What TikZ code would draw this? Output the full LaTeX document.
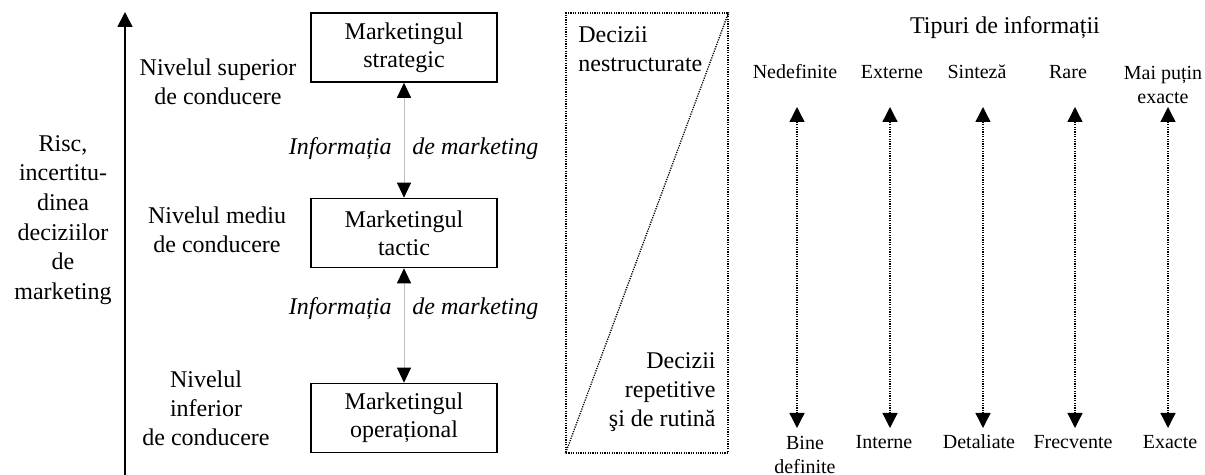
\documentclass[tikz,border=0pt]{standalone}
\usepackage{fontspec}
\setmainfont{Liberation Serif}
\usetikzlibrary{arrows.meta}
\begin{document}
\begin{tikzpicture}[x=0.5pt,y=-0.5pt,
  lbl/.style={font=\fontsize{12}{14.4}\selectfont, align=center, inner sep=0pt},
  sml/.style={font=\fontsize{10}{11.6}\selectfont, align=center, inner sep=0pt},
  mbox/.style={draw, line width=0.8pt, minimum width=93pt, minimum height=34.5pt, inner sep=0pt, font=\fontsize{12}{14}\selectfont, align=center},
  info/.style={font=\fontsize{12}{14}\selectfont\itshape, inner sep=0pt},
  link/.style={draw=gray!50, line width=0.5pt, {Triangle[length=7.5pt,width=7pt,color=black]}-{Triangle[length=7.5pt,width=7pt,color=black]}},
  dots/.style={line width=0.65pt, dash pattern=on 0.6pt off 0.6pt},
  varr/.style={dots, {Triangle[length=7.5pt,width=7.5pt]}-{Triangle[length=7.5pt,width=7.5pt]}},
  axis/.style={line width=0.9pt, -{Triangle[length=7.5pt,width=7.5pt]}}
]
\useasboundingbox (0,0) rectangle (1205,475);

% main axis
\coordinate (axb) at (125,475);
\coordinate (axt) at (125,12);
\draw[axis] (axb) -- (axt);
\node[lbl, font=\fontsize{12}{14.8}\selectfont] (risc) at (63,220) {Risc,\\incertitu-\\dinea\\deciziilor\\de\\marketing};

% level labels
\node[lbl] (lvl1) at (218,82) {Nivelul superior\\de conducere};
\node[lbl] (lvl2) at (217,230) {Nivelul mediu\\de conducere};
\node[lbl] (lvl3) at (206,408) {Nivelul\\inferior\\de conducere};

% boxes
\node[mbox] (b1) at (404,47.5) {Marketingul\\strategic};
\node[mbox] (b2) at (404,233) {Marketingul\\tactic};
\node[mbox] (b3) at (404,418) {Marketingul\\operațional};

\draw[link] (b1.south) -- (b2.north);
\draw[link] (b2.south) -- (b3.north);

\node[info, anchor=base east] (i1a) at (392,155) {Informația};
\node[info, anchor=base west] (i1b) at (412,155) {de marketing};
\node[info, anchor=base east] (i2a) at (392,315) {Informația};
\node[info, anchor=base west] (i2b) at (412,315) {de marketing};

% dotted rectangle
\node[dots, draw, minimum width=81pt, minimum height=220pt, inner sep=0pt] (dr) at (647,233) {};
\draw[dots] (dr.north east) -- (dr.south west);
\node[lbl, align=left, anchor=west] (dtop) at (578,49) {Decizii\\nestructurate};
\node[lbl, align=right, anchor=east] (dbot) at (716,392) {Decizii\\repetitive\\şi de rutină};

% right section
\node[lbl, anchor=base] (tip) at (1005,34) {Tipuri de informații};

\node[sml, anchor=base] (t1) at (795,79) {Nedefinite};
\node[sml, anchor=base] (t2) at (892,79) {Externe};
\node[sml, anchor=base] (t3) at (977,79) {Sinteză};
\node[sml, anchor=base] (t4) at (1068,79) {Rare};
\node[sml, font=\fontsize{10}{12}\selectfont] (t5) at (1163,85) {Mai puțin\\exacte};

\node[sml] (u1) at (805,455) {Bine\\definite};
\node[sml, anchor=base] (u2) at (884,449) {Interne};
\node[sml, anchor=base] (u3) at (979,449) {Detaliate};
\node[sml, anchor=base] (u4) at (1073,449) {Frecvente};
\node[sml, anchor=base] (u5) at (1170,449) {Exacte};

\foreach \i/\x in {1/797,2/890,3/983,4/1075,5/1168}{
  \coordinate (p\i) at (\x,107);
  \coordinate (q\i) at (\x,428);
  \draw[varr] (q\i) -- (p\i);
}
\end{tikzpicture}
\end{document}
